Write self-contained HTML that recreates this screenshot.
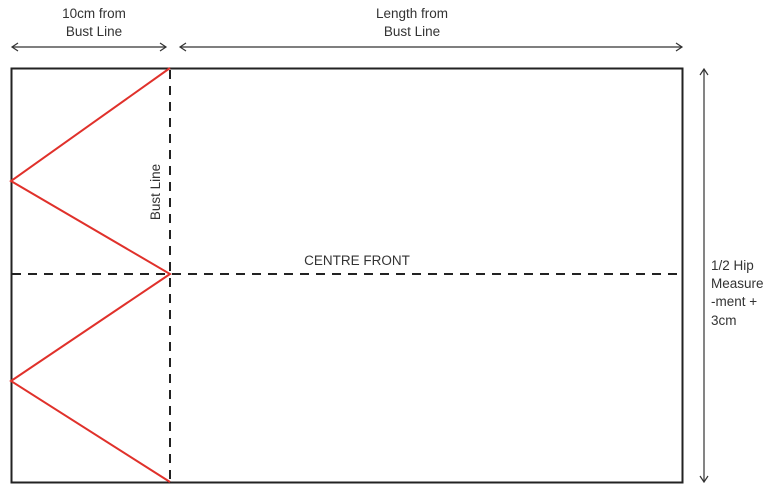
<!DOCTYPE html>
<html><head><style>body{margin:0;background:#fff}</style></head><body>
<svg width="778" height="493" viewBox="0 0 778 493" xmlns="http://www.w3.org/2000/svg" style="display:block;font-family:'Liberation Sans',sans-serif;font-size:13.5px;fill:#333">
<g stroke="#333" stroke-width="1.2" fill="none">
<line x1="12" y1="47" x2="166" y2="47"/><polyline points="18,43 12,47 18,51"/><polyline points="160,43 166,47 160,51"/>
<line x1="180" y1="47" x2="682" y2="47"/><polyline points="186,43 180,47 186,51"/><polyline points="676,43 682,47 676,51"/>
<line x1="704" y1="69" x2="704" y2="482"/><polyline points="700,75 704,69 708,75"/><polyline points="700,476 704,482 708,476"/>
</g>
<rect x="11.5" y="68.5" width="671" height="414" fill="none" stroke="#222" stroke-width="2"/>
<g stroke="#222" stroke-width="2" stroke-dasharray="9,7" fill="none">
<line x1="170" y1="70" x2="170" y2="482"/>
<line x1="12" y1="274" x2="682" y2="274"/>
</g>
<polyline points="170,68 11,181 170,274 11,381 170,482" fill="none" stroke="#e0312b" stroke-width="2"/>
<text x="94" y="18" text-anchor="middle">10cm from</text>
<text x="94" y="36" text-anchor="middle">Bust Line</text>
<text x="412" y="18" text-anchor="middle">Length from</text>
<text x="412" y="36" text-anchor="middle">Bust Line</text>
<text x="357" y="265" text-anchor="middle">CENTRE FRONT</text>
<text transform="translate(160,192) rotate(-90)" text-anchor="middle">Bust Line</text>
<text x="711" y="270">1/2 Hip</text>
<text x="711" y="288">Measure</text>
<text x="711" y="306">-ment +</text>
<text x="711" y="325">3cm</text>
</svg>
</body></html>
